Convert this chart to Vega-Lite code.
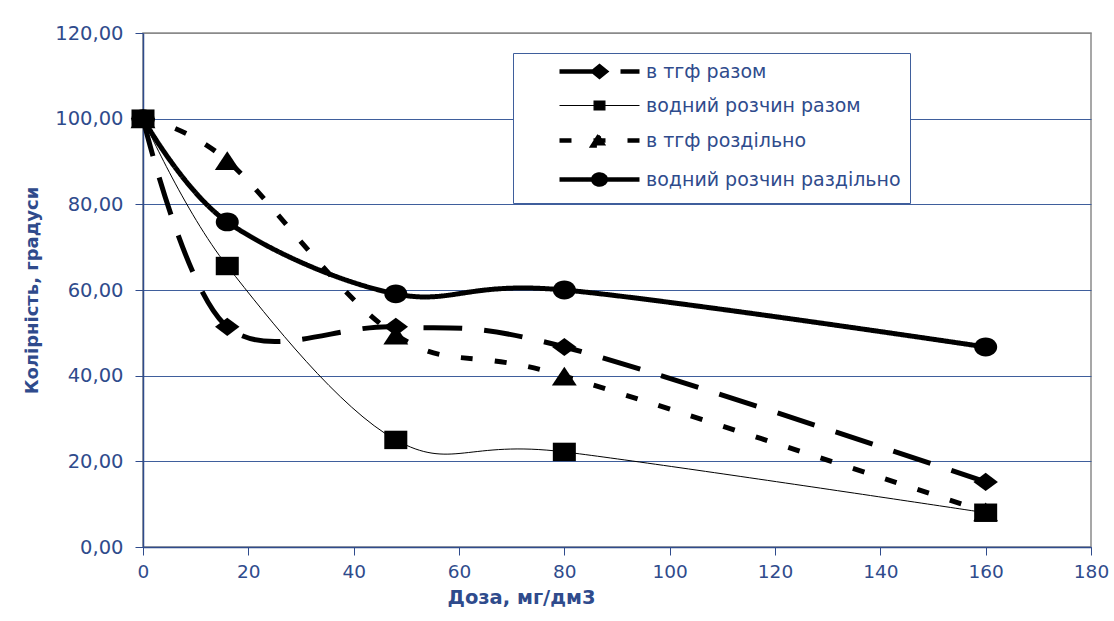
{
  "$schema": "https://vega.github.io/schema/vega-lite/v6.json",
  "width": 948,
  "height": 514,
  "autosize": "none",
  "padding": {"left": 143, "top": 33, "right": 23, "bottom": 74},
  "background": "white",
  "config": {
    "font": "DejaVu Sans",
    "view": {"stroke": "#8a8a8a", "strokeWidth": 1.5}
  },
  "data": {
    "values": [
      {"series": "водний розчин раздільно", "dose": 0, "value": 100},
      {"series": "водний розчин раздільно", "dose": 16, "value": 75.9},
      {"series": "водний розчин раздільно", "dose": 48, "value": 59.1},
      {"series": "водний розчин раздільно", "dose": 80, "value": 60.0},
      {"series": "водний розчин раздільно", "dose": 160, "value": 46.7},
      {"series": "в тгф разом", "dose": 0, "value": 100},
      {"series": "в тгф разом", "dose": 16, "value": 51.4},
      {"series": "в тгф разом", "dose": 48, "value": 51.4},
      {"series": "в тгф разом", "dose": 80, "value": 46.7},
      {"series": "в тгф разом", "dose": 160, "value": 15.2},
      {"series": "в тгф роздільно", "dose": 0, "value": 100},
      {"series": "в тгф роздільно", "dose": 16, "value": 90.2},
      {"series": "в тгф роздільно", "dose": 48, "value": 49.5},
      {"series": "в тгф роздільно", "dose": 80, "value": 39.9},
      {"series": "в тгф роздільно", "dose": 160, "value": 8.2},
      {"series": "водний розчин разом", "dose": 0, "value": 100},
      {"series": "водний розчин разом", "dose": 16, "value": 65.6},
      {"series": "водний розчин разом", "dose": 48, "value": 25.0},
      {"series": "водний розчин разом", "dose": 80, "value": 22.2},
      {"series": "водний розчин разом", "dose": 160, "value": 8.0}
    ]
  },
  "encoding": {
    "x": {
      "field": "dose",
      "type": "quantitative",
      "scale": {"domain": [0, 180], "nice": false, "zero": false},
      "axis": {
        "title": "Доза, мг/дм3",
        "values": [0, 20, 40, 60, 80, 100, 120, 140, 160, 180],
        "grid": false,
        "domainColor": "#2f4b8c",
        "domainWidth": 1.5,
        "tickColor": "#2f4b8c",
        "tickSize": 8,
        "labelFont": "DejaVu Sans",
        "labelFontSize": 18.5,
        "labelColor": "#2f4b8c",
        "labelPadding": 7,
        "labelFlush": false,
        "titleFont": "DejaVu Sans",
        "titleFontSize": 19.5,
        "titleFontWeight": "bold",
        "titleColor": "#2f4b8c",
        "titleAnchor": "start",
        "titleAlign": "center",
        "titleBaseline": "middle",
        "titleX": 378,
        "titleY": 50
      }
    },
    "y": {
      "field": "value",
      "type": "quantitative",
      "scale": {"domain": [0, 120], "nice": false},
      "axis": {
        "title": "Колірність, градуси",
        "values": [0, 20, 40, 60, 80, 100, 120],
        "labelExpr": "replace(format(datum.value, '.2f'), '.', ',')",
        "grid": true,
        "gridColor": {"condition": {"test": "datum.value === 120", "value": "#8a8a8a"}, "value": "#3f5e9c"},
        "gridWidth": 1,
        "domainColor": "#2f4b8c",
        "domainWidth": 1.5,
        "tickColor": "#2f4b8c",
        "tickSize": 8,
        "labelFont": "DejaVu Sans",
        "labelFontSize": 19.5,
        "labelColor": "#2f4b8c",
        "labelPadding": 12,
        "titleFont": "DejaVu Sans",
        "titleFontSize": 18,
        "titleFontWeight": "bold",
        "titleColor": "#2f4b8c",
        "titleAnchor": "middle",
        "titleX": -111,
        "titleY": 257,
        "titleAlign": "center",
        "titleBaseline": "middle"
      }
    }
  },
  "layer": [
    {
      "transform": [{"filter": "datum.series !== 'водний розчин разом'"}],
      "mark": {"type": "line", "interpolate": "cardinal", "stroke": "black", "strokeWidth": 5, "strokeCap": "butt"},
      "encoding": {
        "detail": {"field": "series", "type": "nominal"},
        "strokeDash": {
          "field": "series",
          "type": "nominal",
          "scale": {
            "domain": ["в тгф разом", "водний розчин разом", "в тгф роздільно", "водний розчин раздільно"],
            "range": [[39, 22], [1, 0], [12, 22], [1, 0]]
          },
          "legend": {
            "title": null,
            "orient": "none",
            "legendX": 370,
            "legendY": 20,
            "direction": "vertical",
            "fillColor": "white",
            "strokeColor": "#3f5e9c",
            "padding": 9,
            "symbolSize": 900,
            "symbolOffset": 68,
            "labelOffset": 37,
            "rowPadding": 10,
            "labelFont": "DejaVu Sans",
            "labelFontSize": 19,
            "labelColor": "#2f4b8c",
            "labelLimit": 400,
            "symbolFillColor": "black",
            "symbolStrokeColor": "black",
            "encode": {
              "symbols": {
                "update": {
                  "shape": {"signal": "datum.value === 'в тгф разом' ? 'M-2.667,0H2.667M-0.42,0L0,-0.34L0.42,0L0,0.34Z' : datum.value === 'водний розчин разом' ? 'M-2.667,0H2.667M-0.36,-0.3H0.36V0.3H-0.36Z' : datum.value === 'в тгф роздільно' ? 'M-2.667,0H2.667M-0.44,0.34L0,-0.36L0.44,0.34Z' : 'M-2.667,0H2.667M-0.42,0A0.42,0.33 0 1,0 0.42,0A0.42,0.33 0 1,0 -0.42,0Z'"},
                  "fill": {"value": "black"},
                  "stroke": {"value": "black"},
                  "opacity": {"value": 1},
                  "strokeWidth": {"signal": "datum.value === 'водний розчин разом' ? 1.2 : 4.5"}
                }
              }
            }
          }
        }
      }
    },
    {
      "transform": [{"filter": "datum.series === 'водний розчин разом'"}],
      "mark": {"type": "line", "interpolate": "cardinal", "stroke": "black", "strokeWidth": 1},
      "encoding": {
        "detail": {"field": "series", "type": "nominal"}
      }
    },
    {
      "transform": [{"filter": "datum.series === 'водний розчин раздільно'"}],
      "mark": {"type": "point", "shape": "M-1,0A1,0.82 0 1,0 1,0A1,0.82 0 1,0 -1,0Z", "filled": true, "fill": "black", "opacity": 1, "size": 530}
    },
    {
      "transform": [{"filter": "datum.series === 'в тгф разом'"}],
      "mark": {"type": "point", "shape": "M-1,0L0,-0.74L1,0L0,0.74Z", "filled": true, "fill": "black", "opacity": 1, "size": 600}
    },
    {
      "transform": [{"filter": "datum.series === 'в тгф роздільно'"}],
      "mark": {"type": "point", "shape": "M-1,0.76L0,-0.76L1,0.76Z", "filled": true, "fill": "black", "opacity": 1, "size": 620}
    },
    {
      "transform": [{"filter": "datum.series === 'водний розчин разом'"}],
      "mark": {"type": "point", "shape": "M-1,-0.8H1V0.8H-1Z", "filled": true, "fill": "black", "opacity": 1, "size": 530}
    }
  ]
}
